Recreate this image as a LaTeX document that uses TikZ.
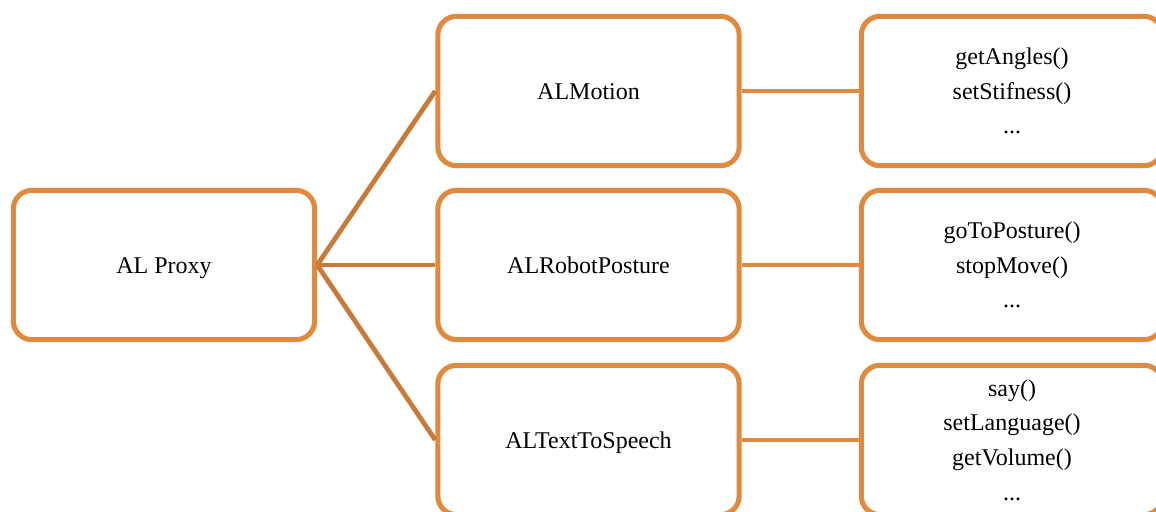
\documentclass[tikz,border=0pt]{standalone}
\usepackage{fontspec}
\setmainfont{Liberation Serif}
\definecolor{boxorange}{HTML}{E08A40}
\definecolor{linkdark}{HTML}{C87A3A}
\begin{document}
\begin{tikzpicture}[x=0.75pt,y=-0.75pt,
  modbox/.style={draw=boxorange,line width=3.8pt,rounded corners=14pt,
    rectangle,minimum width=226pt,minimum height=112pt,inner sep=0pt,
    align=center,font=\fontsize{18}{26}\selectfont,fill=white},
  oneline/.style={modbox,text height=14.5pt,text depth=1.5pt},
  leftlink/.style={draw=linkdark,line width=3.6pt},
  rightlink/.style={draw=boxorange,line width=3.6pt}]
\useasboundingbox (0,0) rectangle (1156,511);
\clip (0,0) rectangle (1156,511);
% module column
\node[oneline] (proxy) at (164,265) {AL Proxy};
\node[oneline] (motion) at (588.5,91) {ALMotion};
\node[oneline] (posture) at (588.5,265) {ALRobotPosture};
\node[oneline] (tts) at (588.5,440) {ALTextToSpeech};
% method lists
\node[modbox] (m1) at (1012,91) {getAngles()\\setStifness()\\...};
\node[modbox] (m2) at (1012,265) {goToPosture()\\stopMove()\\...};
\node[modbox] (m3) at (1012,440) {say()\\setLanguage()\\getVolume()\\...};
% links
\draw[leftlink] (proxy.east) -- (motion.west);
\draw[leftlink] (proxy.east) -- (posture.west);
\draw[leftlink] (proxy.east) -- (tts.west);
\draw[rightlink] (motion.east) -- (m1.west);
\draw[rightlink] (posture.east) -- (m2.west);
\draw[rightlink] (tts.east) -- (m3.west);
\end{tikzpicture}
\end{document}
